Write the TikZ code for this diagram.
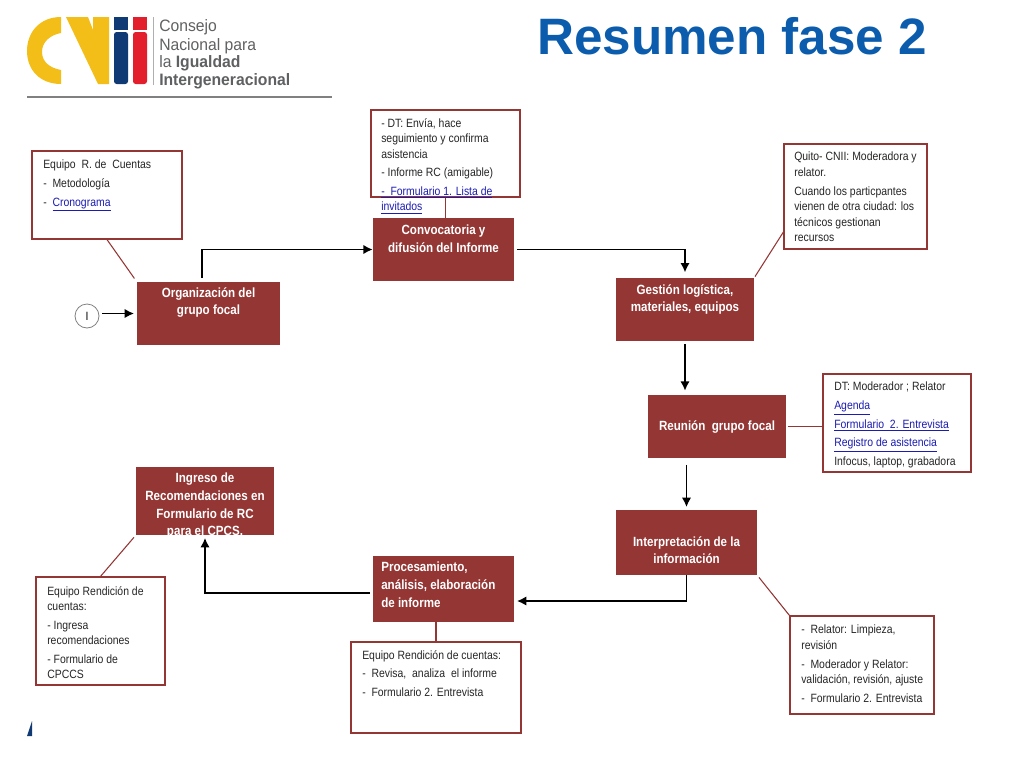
\documentclass[tikz,border=0pt]{standalone}
\usepackage{fontspec}
\usetikzlibrary{arrows.meta}
\setmainfont[FakeStretch=.87]{Liberation Sans}
\newfontfamily\plainsans{Liberation Sans}
\newfontfamily\logosans[FakeStretch=.95]{Liberation Sans}
\definecolor{stepred}{HTML}{943634}
\definecolor{linkblue}{HTML}{1C1CB4}
\definecolor{titleblue}{HTML}{0B5CAD}
\definecolor{logoyellow}{HTML}{F2BE17}
\definecolor{logoblue}{HTML}{0F3A73}
\definecolor{logored}{HTML}{E31E2D}
\definecolor{logogray}{HTML}{5F6062}
\newcommand{\lnk}[1]{\textcolor{linkblue}{\underline{#1}}}
\newcommand{\paraskip}{\\[2.4pt]}
\tikzset{
  stepbox/.style={fill=stepred,inner sep=0pt},
  steptext/.style={text=white,font=\fontsize{10}{13.2}\selectfont\bfseries,align=center,inner sep=0pt},
  notebox/.style={draw=stepred,line width=0.9pt,fill=white,inner sep=0pt},
  notetext/.style={anchor=north west,inner sep=0pt,align=left,text=black!85,font=\fontsize{9}{11.6}\selectfont},
  flow/.style={-{Latex[length=7pt,width=7pt]},line width=1.3pt,black},
  tie/.style={draw=stepred,line width=0.8pt},
  logotext/.style={anchor=base west,inner sep=0pt,text=logogray,font=\logosans\fontsize{12.4}{14}\selectfont},
}
\begin{document}
\begin{tikzpicture}[x=0.75pt,y=-0.75pt]
\useasboundingbox (0,0) rectangle (1024,768);
% logo
\fill[logoyellow] (61,17) .. controls (40,17) and (27,32) .. (27,51) .. controls (27,70) and (40,84) .. (61,84) -- (61,70) .. controls (50,68) and (42,62) .. (42,52) .. controls (42,42) and (50,35) .. (61,33) -- cycle;
\fill[logoyellow] (66,17) -- (88,17) -- (93,30) -- (93,17) -- (109,17) -- (109,84) -- (98,84) -- cycle;
\fill[logoblue] (114,17) rectangle (128,30);
\fill[logoblue,rounded corners=2pt] (114,32) -- (128,32) -- (128,84) -- (114,84) -- cycle;
\fill[logored] (133,17) rectangle (147,30);
\fill[logored,rounded corners=2pt] (133,32) -- (147,32) -- (147,84) -- (133,84) -- cycle;
\draw[logogray!50,line width=0.6pt] (153,17) -- (153,85);
\node[logotext] (consejo) at (159,31) {Consejo};
\node[logotext] (nacional) at (159,50) {Nacional para};
\node[logotext] (igualdad) at (159,67) {la \textbf{Igualdad}};
\node[logotext] (intergen) at (159,85) {\textbf{Intergeneracional}};
\draw[gray,line width=1.1pt] (27,97) -- (332,97);
\fill[logoblue] (32,721) -- (32,736) -- (27,736) -- cycle;
% title
\node[anchor=base west,inner sep=0pt,text=titleblue,font=\plainsans\fontsize{38.4}{40}\selectfont\bfseries] (title) at (537,54) {Resumen fase 2};
% steps
\node[stepbox,minimum width=143*0.75pt,minimum height=63*0.75pt] (org) at (208.5,313.5) {};
\node[stepbox,minimum width=141*0.75pt,minimum height=63*0.75pt] (conv) at (443.5,249.5) {};
\node[stepbox,minimum width=138*0.75pt,minimum height=63*0.75pt] (gest) at (685,309.5) {};
\node[stepbox,minimum width=138*0.75pt,minimum height=63*0.75pt] (reun) at (717,426.5) {};
\node[stepbox,minimum width=141*0.75pt,minimum height=65*0.75pt] (interp) at (686.5,542.5) {};
\node[stepbox,minimum width=141*0.75pt,minimum height=66*0.75pt] (proc) at (443.5,589) {};
\node[stepbox,minimum width=138*0.75pt,minimum height=68*0.75pt] (ingreso) at (205,501) {};
\node[steptext,anchor=north] (orgtext) at (208.5,287) {Organización del\\grupo focal};
\node[steptext,anchor=north] (convtext) at (443.5,225) {Convocatoria y\\difusión del Informe};
\node[steptext,anchor=north] (gesttext) at (685,284) {Gestión logística,\\materiales, equipos};
\node[steptext] (reuntext) at (717,427) {Reunión\ \ grupo focal};
\node[steptext,anchor=north] (interptext) at (686.5,536) {Interpretación de la\\información};
\node[steptext,anchor=north west,align=left] (proctext) at (381,562) {Procesamiento,\\análisis, elaboración\\de informe};
\node[steptext,anchor=north] (ingresotext) at (205,473) {Ingreso de\\Recomendaciones en\\Formulario de RC\\para el CPCS.};
\node[draw=gray,line width=0.6pt,circle,minimum size=24*0.75pt,inner sep=0pt,font=\fontsize{9}{10}\selectfont] (inicio) at (87,316) {I};
% notes
\node[notebox,minimum width=150*0.75pt,minimum height=88*0.75pt] (equipo) at (107,195) {};
\node[notebox,minimum width=149*0.75pt,minimum height=87*0.75pt] (dt) at (445.5,153.5) {};
\node[notebox,minimum width=143*0.75pt,minimum height=105*0.75pt] (quito) at (855.5,196.5) {};
\node[notebox,minimum width=148*0.75pt,minimum height=98*0.75pt] (moder) at (897,423) {};
\node[notebox,minimum width=144*0.75pt,minimum height=98*0.75pt] (relator) at (862,665) {};
\node[notebox,minimum width=170*0.75pt,minimum height=91*0.75pt] (revisa) at (436,687.5) {};
\node[notebox,minimum width=129*0.75pt,minimum height=108*0.75pt] (ingresa) at (100.5,631) {};
\node[notetext] (equipotext) at (43,160) {Equipo\ \ R. de\ \ Cuentas\paraskip -\ \ Metodología\paraskip -\ \ \lnk{Cronograma}};
\node[notetext] (dttext) at (381,118) {- DT: Envía, hace\\seguimiento y confirma\\asistencia\paraskip - Informe RC (amigable)\paraskip \lnk{-\ \ Formulario 1. Lista de}\\\lnk{invitados}};
\node[notetext] (quitotext) at (794,152) {Quito- CNII: Moderadora y\\relator.\paraskip Cuando los particpantes\\vienen de otra ciudad: los\\técnicos gestionan\\recursos};
\node[notetext] (modertext) at (834,382) {DT: Moderador ; Relator\paraskip \lnk{Agenda}\paraskip \lnk{Formulario\ \ 2. Entrevista}\paraskip \lnk{Registro de asistencia}\paraskip Infocus, laptop, grabadora};
\node[notetext] (relatortext) at (801,625) {-\ \ Relator: Limpieza,\\revisión\paraskip -\ \ Moderador y Relator:\\validación, revisión, ajuste\paraskip -\ \ Formulario 2. Entrevista};
\node[notetext] (revisatext) at (362,650) {Equipo Rendición de cuentas:\paraskip -\ \ Revisa,\ \ analiza\ \ el informe\paraskip -\ \ Formulario 2. Entrevista};
\node[notetext] (ingresatext) at (47,586) {Equipo Rendición de\\cuentas:\paraskip - Ingresa\\recomendaciones\paraskip - Formulario de\\CPCCS};
% flow
\draw[flow,shorten <=3pt] ([xshift=-5pt]org.north) |- (conv.west);
\draw[flow,shorten <=2pt,shorten >=4pt] (conv.east) -| (gest.north);
\draw[flow,shorten <=2pt,shorten >=3pt] (gest.south) -- (gest.south |- reun.north);
\draw[flow,shorten <=5pt,shorten >=2pt] (interp.north |- reun.south) -- (interp.north);
\draw[flow,shorten >=2pt] (interp.south) |- ([yshift=-9pt]proc.east);
\draw[flow,shorten <=2pt,shorten >=2pt] ([yshift=-3pt]proc.west) -| (ingreso.south);
\draw[flow,shorten <=2pt,shorten >=2pt] (inicio.east |- org.west) -- (org.west);
% ties
\draw[tie,shorten >=3pt] (equipo.south) -- (org.north west);
\draw[tie] (dt.south) -- (dt.south |- conv.north);
\draw[tie,shorten >=1pt] (quito.west |- 0,232) -- (gest.north east);
\draw[tie,shorten <=1pt] (reun.east) -- (reun.east -| moder.west);
\draw[tie,shorten <=2pt] (interp.south east) -- (relator.north west);
\draw[tie] (revisa.north) -- (revisa.north |- proc.south);
\draw[tie,shorten >=2pt] (ingresa.north) -- (ingreso.south west);
\end{tikzpicture}
\end{document}
